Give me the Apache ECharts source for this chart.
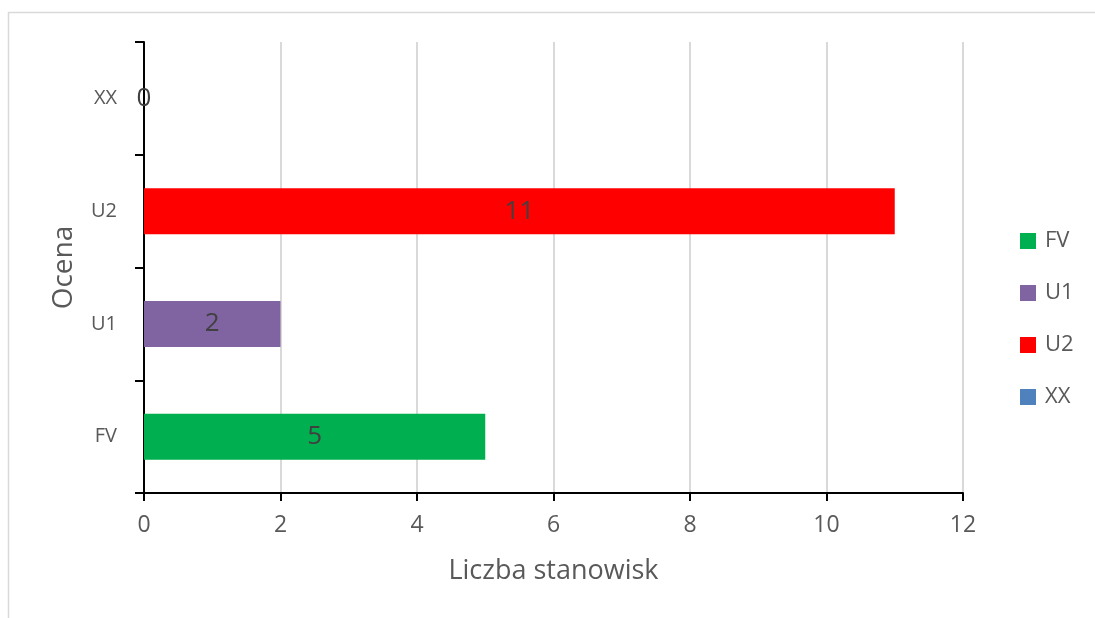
<!DOCTYPE html>
<html>
<head>
<meta charset="utf-8">
<script src="https://cdn.jsdelivr.net/npm/echarts@6/dist/echarts.min.js"></script>
<style>
  html, body { margin: 0; padding: 0; background: #ffffff; }
  #chart { width: 1095px; height: 618px; }
</style>
</head>
<body>
<div id="chart"></div>
<script>
// Assessment categories (bottom to top) and number of sites in each
const categories = ['FV', 'U1', 'U2', 'XX'];
const values = [5, 2, 11, 0];
const colors = ['#00B050', '#8064A2', '#FF0000', '#4F81BD'];
const xTicks = [0, 2, 4, 6, 8, 10, 12];

const FONT = '"Open Sans", "Noto Sans", sans-serif';

// One series per category so each gets its own legend entry
const series = categories.map((name, i) => ({
  name: name,
  type: 'bar',
  stack: 'all',
  barWidth: 46,
  itemStyle: { color: colors[i] },
  label: {
    show: true,
    position: 'inside',
    color: '#404040',
    fontSize: 26,
    fontFamily: FONT
  },
  data: categories.map((c, j) => (j === i ? values[i] : '-'))
}));

const chart = echarts.init(document.getElementById('chart'));
chart.setOption({
  animation: false,
  backgroundColor: '#ffffff',
  textStyle: { fontFamily: FONT },
  graphic: [{
    type: 'rect',
    shape: { x: 8.5, y: 12.5, width: 1200, height: 800 },
    style: { fill: 'none', stroke: '#D9D9D9', lineWidth: 1.5 },
    silent: true,
    z: -10
  }],
  grid: { left: 144, right: 132, top: 42, bottom: 125 },
  legend: {
    orient: 'vertical',
    left: 1020,
    top: 230,
    padding: 0,
    itemWidth: 16,
    itemHeight: 16,
    itemGap: 30,
    icon: 'rect',
    data: categories,
    textStyle: {
      color: '#595959', fontSize: 22, fontFamily: FONT,
      padding: [0, 0, 0, 4]
    }
  },
  xAxis: {
    type: 'value',
    min: xTicks[0],
    max: xTicks[xTicks.length - 1],
    interval: 2,
    name: 'Liczba stanowisk',
    nameLocation: 'middle',
    nameGap: 65,
    nameTextStyle: { color: '#595959', fontSize: 27, fontFamily: FONT },
    axisLine: { show: true, lineStyle: { color: '#000000', width: 2 } },
    axisTick: { show: true, length: 8, lineStyle: { color: '#000000', width: 2 } },
    axisLabel: { color: '#595959', fontSize: 23, fontFamily: FONT, margin: 21 },
    splitLine: { show: true, lineStyle: { color: '#D9D9D9', width: 2 } }
  },
  yAxis: {
    type: 'category',
    data: categories,
    name: 'Ocena',
    nameLocation: 'middle',
    nameGap: 66,
    nameTextStyle: { color: '#595959', fontSize: 28, fontFamily: FONT },
    axisLine: { show: true, lineStyle: { color: '#000000', width: 2 } },
    axisTick: { show: true, length: 9, lineStyle: { color: '#000000', width: 2 } },
    axisLabel: { color: '#595959', fontSize: 20, fontFamily: FONT, margin: 27 },
    splitLine: { show: false }
  },
  series: series
});
</script>
</body>
</html>
